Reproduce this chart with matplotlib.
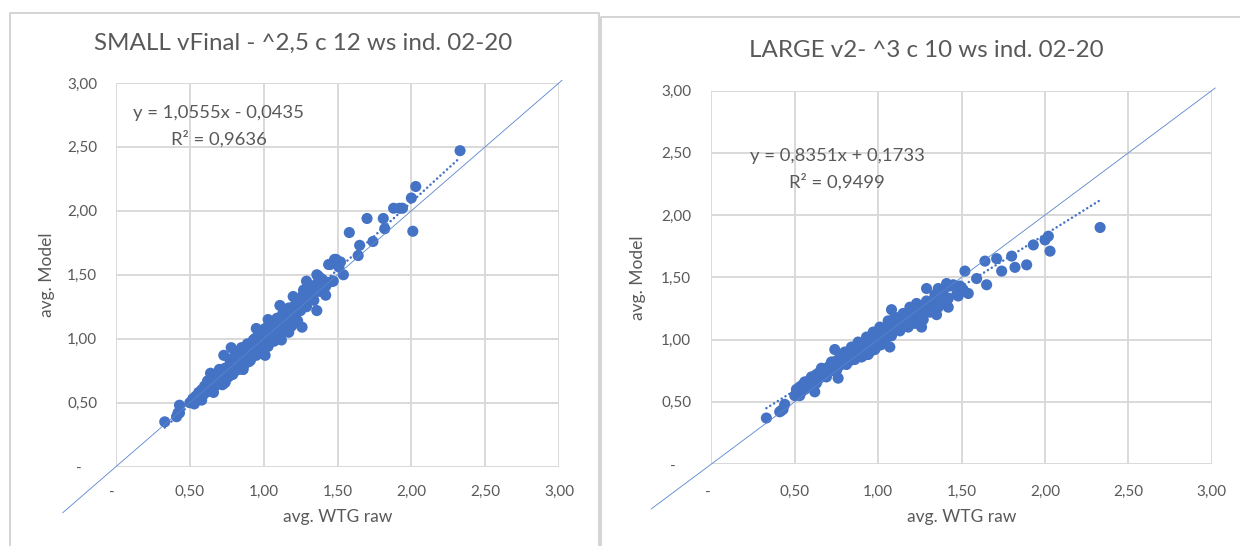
import matplotlib
matplotlib.use("Agg")
import matplotlib.pyplot as plt
from matplotlib.lines import Line2D

plt.rcParams['font.family'] = ['Lato', 'DejaVu Sans']

# ---------------- data ----------------
small_wtg = [
    0.50, 0.52, 0.53, 0.54, 0.55, 0.56, 0.57, 0.58, 0.59, 0.60, 0.61, 0.62, 0.63, 0.64, 0.65,
    0.66, 0.67, 0.68, 0.69, 0.70, 0.70, 0.71, 0.72, 0.73, 0.74, 0.74, 0.75, 0.76, 0.77, 0.78,
    0.78, 0.79, 0.80, 0.80, 0.81, 0.82, 0.82, 0.83, 0.84, 0.84, 0.85, 0.86, 0.86, 0.87, 0.88,
    0.88, 0.89, 0.90, 0.90, 0.91, 0.92, 0.92, 0.93, 0.94, 0.94, 0.95, 0.96, 0.96, 0.97, 0.98,
    0.98, 0.99, 1.00, 1.00, 1.01, 1.02, 1.02, 1.03, 1.04, 1.04, 1.05, 1.06, 1.06, 1.07, 1.08,
    1.08, 1.09, 1.10, 1.10, 1.11, 1.12, 1.13, 1.14, 1.15, 1.16, 1.17, 1.18, 1.19, 1.20, 1.21,
    1.22, 1.23, 1.24, 1.25, 1.26, 1.28, 1.30, 1.32, 1.33, 1.35,
    0.58, 0.62, 0.66, 0.68, 0.70, 0.72, 0.76, 0.77, 0.79, 0.81, 0.83, 0.85, 0.87, 0.89, 0.91,
    0.93, 0.95, 0.97, 0.99, 1.01, 1.03, 1.05, 1.07, 1.09, 1.11, 1.13, 1.15, 1.17, 1.19, 1.21,
    1.23, 1.25, 1.27, 1.29, 1.31, 1.34, 1.36, 1.38, 1.40, 1.44,
    0.33, 0.43, 0.42, 0.41, 0.43, 0.55, 0.53, 0.64, 0.73, 0.73, 0.86, 1.01, 1.12, 0.78, 0.95,
    1.03, 1.11, 1.17, 1.26, 1.20, 1.23, 1.27, 1.29, 1.33, 1.36, 1.36, 1.37, 1.42, 1.42, 1.45,
    1.47, 1.49, 1.51, 1.52, 1.54, 1.44, 1.48, 1.51, 1.47, 1.39, 1.34, 1.58, 1.64, 1.65, 1.70,
    1.74, 1.81, 1.82, 1.88, 1.92, 1.94, 2.00, 2.01, 2.03, 2.33,
]
small_model = [
    0.50, 0.53, 0.49, 0.55, 0.52, 0.58, 0.55, 0.60, 0.56, 0.63, 0.58, 0.62, 0.60, 0.66, 0.62,
    0.68, 0.63, 0.70, 0.66, 0.72, 0.67, 0.69, 0.75, 0.71, 0.66, 0.77, 0.73, 0.78, 0.72, 0.82,
    0.76, 0.79, 0.85, 0.74, 0.81, 0.77, 0.88, 0.83, 0.80, 0.90, 0.86, 0.82, 0.76, 0.89, 0.84,
    0.93, 0.87, 0.82, 0.95, 0.90, 0.86, 0.97, 0.92, 0.88, 1.00, 0.95, 0.90, 1.02, 0.97, 0.93,
    1.04, 0.99, 0.95, 1.06, 1.01, 0.97, 1.08, 1.03, 0.99, 1.10, 1.05, 1.01, 1.12, 1.07, 1.04,
    1.14, 1.10, 1.06, 1.16, 1.12, 1.08, 1.15, 1.11, 1.19, 1.14, 1.21, 1.16, 1.24, 1.19, 1.26,
    1.21, 1.28, 1.23, 1.31, 1.27, 1.33, 1.30, 1.38, 1.34, 1.41,
    0.52, 0.67, 0.58, 0.64, 0.76, 0.64, 0.70, 0.84, 0.72, 0.89, 0.76, 0.93, 0.80, 0.96, 0.83,
    0.99, 0.87, 1.04, 0.90, 1.08, 0.94, 1.12, 0.98, 1.16, 1.02, 1.20, 1.07, 1.24, 1.10, 1.18,
    1.14, 1.22, 1.35, 1.25, 1.33, 1.30, 1.43, 1.37, 1.46, 1.44,
    0.35, 0.48, 0.42, 0.39, 0.42, 0.52, 0.50, 0.73, 0.87, 0.65, 0.76, 0.87, 0.99, 0.93, 1.08,
    1.15, 1.26, 1.05, 1.09, 1.33, 1.29, 1.38, 1.45, 1.39, 1.22, 1.50, 1.49, 1.41, 1.34, 1.58,
    1.45, 1.62, 1.56, 1.60, 1.50, 1.58, 1.62, 1.59, 1.45, 1.47, 1.41, 1.83, 1.65, 1.73, 1.94,
    1.76, 1.94, 1.86, 2.02, 2.02, 2.02, 2.10, 1.84, 2.19, 2.47,
]

large_wtg = [
    0.50, 0.51, 0.52, 0.53, 0.54, 0.55, 0.56, 0.57, 0.58, 0.59, 0.60, 0.61, 0.62, 0.63, 0.64,
    0.65, 0.66, 0.67, 0.68, 0.69, 0.70, 0.71, 0.72, 0.73, 0.74, 0.75, 0.76, 0.77, 0.78, 0.79,
    0.80, 0.80, 0.81, 0.82, 0.83, 0.84, 0.85, 0.86, 0.87, 0.88, 0.89, 0.90, 0.90, 0.91, 0.92,
    0.93, 0.94, 0.94, 0.95, 0.96, 0.97, 0.98, 0.98, 0.99, 1.00, 1.01, 1.02, 1.02, 1.03, 1.04,
    1.05, 1.06, 1.07, 1.08, 1.09, 1.10, 1.11, 1.12, 1.14, 1.15, 1.17, 1.18, 1.20, 1.21, 1.23,
    1.25, 1.27, 1.28, 1.30, 1.32, 1.33, 1.35, 1.37, 1.38,
    0.53, 0.56, 0.60, 0.63, 0.66, 0.69, 0.72, 0.75, 0.78, 0.81, 0.84, 0.86, 0.88, 0.91, 0.93,
    0.95, 0.97, 1.00, 1.01, 1.04, 1.06, 1.08, 1.10, 1.13, 1.15, 1.18, 1.20, 1.22, 1.24, 1.27,
    1.29, 1.31, 1.34, 1.36, 1.39, 1.42,
    0.33, 0.41, 0.42, 0.44, 0.43, 0.51, 0.62, 0.74, 0.76, 1.07, 1.08, 1.26, 1.29, 1.35, 1.42,
    1.23, 1.19, 1.33, 1.40, 1.47, 1.51, 1.45, 1.41, 1.36, 1.43, 1.49, 1.48, 1.54, 1.52, 1.59,
    1.64, 1.65, 1.71, 1.74, 1.80, 1.82, 1.89, 1.93, 2.00, 2.02, 2.03, 2.33,
]
large_model = [
    0.55, 0.60, 0.57, 0.62, 0.58, 0.64, 0.60, 0.66, 0.62, 0.67, 0.64, 0.70, 0.66, 0.72, 0.68,
    0.74, 0.70, 0.76, 0.72, 0.77, 0.74, 0.79, 0.75, 0.81, 0.77, 0.83, 0.78, 0.85, 0.80, 0.86,
    0.82, 0.90, 0.84, 0.88, 0.83, 0.91, 0.86, 0.92, 0.87, 0.95, 0.89, 0.96, 0.86, 0.91, 0.98,
    0.93, 0.88, 1.00, 0.95, 1.02, 0.96, 1.04, 0.92, 0.99, 1.06, 1.01, 0.96, 1.08, 1.03, 1.09,
    1.04, 1.10, 1.06, 1.12, 1.07, 1.13, 1.09, 1.15, 1.11, 1.17, 1.13, 1.19, 1.15, 1.21, 1.18,
    1.23, 1.20, 1.27, 1.24, 1.30, 1.26, 1.33, 1.29, 1.35,
    0.55, 0.66, 0.70, 0.65, 0.77, 0.70, 0.82, 0.75, 0.88, 0.80, 0.94, 0.84, 0.98, 0.87, 1.02,
    0.90, 1.06, 0.95, 1.10, 0.99, 1.15, 1.03, 1.18, 1.07, 1.21, 1.10, 1.24, 1.13, 1.27, 1.16,
    1.31, 1.22, 1.36, 1.26, 1.39, 1.33,
    0.37, 0.42, 0.43, 0.48, 0.44, 0.57, 0.58, 0.92, 0.69, 0.94, 1.24, 1.10, 1.41, 1.20, 1.26,
    1.29, 1.26, 1.31, 1.29, 1.36, 1.40, 1.44, 1.45, 1.41, 1.43, 1.43, 1.35, 1.37, 1.55, 1.49,
    1.63, 1.44, 1.65, 1.55, 1.67, 1.58, 1.60, 1.76, 1.80, 1.83, 1.71, 1.90,
]

small_title = "SMALL vFinal - ^2,5 c 12 ws ind. 02-20"
large_title = "LARGE v2- ^3 c 10 ws ind. 02-20"
small_fit = (1.0555, -0.0435)
large_fit = (0.8351, 0.1733)
small_eq = ["y = 1,0555x - 0,0435", "R² = 0,9636"]
large_eq = ["y = 0,8351x + 0,1733", "R² = 0,9499"]
tick_values = [0.0, 0.5, 1.0, 1.5, 2.0, 2.5, 3.0]
x_tick_labels = ["-  ", "0,50", "1,00", "1,50", "2,00", "2,50", "3,00"]
y_tick_labels = ["-    ", "0,50", "1,00", "1,50", "2,00", "2,50", "3,00"]
x_label = "avg. WTG raw"
y_label = "avg. Model"
diag_range = [-0.36, 3.02]

# ---------------- styling ----------------
W, H = 1240, 546
BLUE = "#4472C4"
GREY_TXT = "#595959"
GRID = "#d9d9d9"

fig = plt.figure(figsize=(W / 100, H / 100), dpi=100)
fig.patch.set_facecolor("white")


def fx(px):
    return px / W


def fy(py):
    return 1 - py / H


# chart frames
for xs, ys in [([10, 10, 599, 599], [560, 13, 13, 560]),
               ([1260, 601, 601], [16.5, 16.5, 560])]:
    fig.add_artist(Line2D([fx(v) for v in xs], [fy(v) for v in ys],
                          color="#d4d4d4", lw=1.4, transform=fig.transFigure))


def draw(rect, wtg, model, fit, eq, eq_pos, title, title_pos, ylab_x, ytick_pad, xtick_pad):
    l, t, r, b = rect
    ax = fig.add_axes([fx(l), fy(b), (r - l) / W, (b - t) / H])
    ax.set_xlim(0, 3)
    ax.set_ylim(0, 3)
    ax.set_xticks(tick_values)
    ax.set_yticks(tick_values)
    ax.set_xticklabels(x_tick_labels)
    ax.set_yticklabels(y_tick_labels)
    ax.tick_params(length=0, labelsize=11, labelcolor=GREY_TXT)
    ax.tick_params(axis="y", pad=ytick_pad)
    ax.tick_params(axis="x", pad=xtick_pad)
    for s in ax.spines.values():
        s.set_visible(False)
    ax.grid(True, color=GRID, lw=1.4)
    ax.set_axisbelow(True)

    ax.scatter(wtg, model, s=64, color=BLUE, edgecolors="none", zorder=3)
    xmin, xmax = min(wtg), max(wtg)
    ax.plot([xmin, xmax], [fit[0] * xmin + fit[1], fit[0] * xmax + fit[1]],
            color=BLUE, lw=1.8, linestyle=(0, (0.05, 1.75)), dash_capstyle="round",
            zorder=4)
    ax.plot(diag_range, diag_range, color="#5a84cc", lw=0.6, clip_on=False, zorder=5)

    fig.text(fx(eq_pos[0]), fy(eq_pos[1]), eq[0], ha="center", va="center",
             fontsize=13.3, color=GREY_TXT)
    fig.text(fx(eq_pos[0]), fy(eq_pos[2]), eq[1], ha="center", va="center",
             fontsize=13.3, color=GREY_TXT)
    fig.text(fx(title_pos[0]), fy(title_pos[1]), title, ha="center", va="center",
             fontsize=17.4, color=GREY_TXT)
    fig.text(fx((l + r) / 2), fy(517), x_label, ha="center", va="center",
             fontsize=12.5, color=GREY_TXT)
    fig.text(fx(ylab_x), fy((t + b) / 2), y_label, ha="center", va="center",
             rotation=90, fontsize=12.5, color=GREY_TXT)
    return ax


draw((116, 82.9, 559, 466.6), small_wtg, small_model, small_fit, small_eq,
     (218.5, 113, 138.6), small_title, (303.5, 43.5), 46.7, 13.5, 13)
draw((711.3, 90.5, 1211.9, 464.1), large_wtg, large_model, large_fit, large_eq,
     (837, 155.6, 181.8), large_title, (926.8, 50.5), 637.8, 14.5, 15)

fig.savefig("out.png", dpi=100, facecolor="white")
